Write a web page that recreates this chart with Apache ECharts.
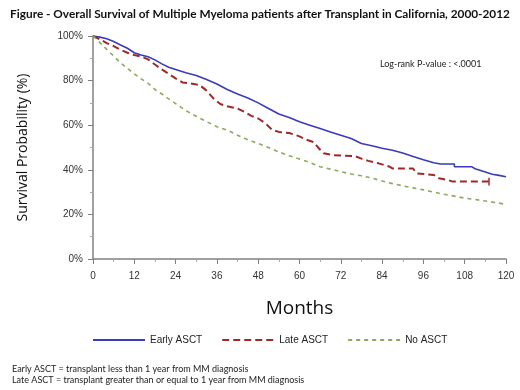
<!DOCTYPE html>
<html>
<head>
<meta charset="utf-8">
<script src="https://cdn.jsdelivr.net/npm/echarts@6/dist/echarts.min.js"></script>
<style>
  html, body { margin: 0; padding: 0; background: #fff; }
  #chart { width: 520px; height: 390px; }
</style>
</head>
<body>
<div id="chart"></div>
<script>
// Early ASCT
var earlyMonths = [0, 2, 4, 6, 8, 10, 12, 14, 16, 18, 20, 22, 24, 27, 30, 33, 36, 39, 42, 45, 48, 51, 54, 57, 60, 63, 66, 69, 72, 75, 78, 81, 84, 87, 90, 93, 96, 99, 101, 105, 105, 110, 111, 114, 116, 118, 120];
var earlySurv   = [100, 99.5, 98.8, 97.5, 96, 94.5, 92.5, 91.5, 90.7, 89.3, 87.5, 86, 85, 83.5, 82.3, 80.5, 78.5, 76, 74, 72.2, 70, 67.5, 65, 63.5, 61.5, 60, 58.5, 57, 55.5, 54, 51.8, 50.8, 49.7, 48.8, 47.5, 46, 44.5, 43.2, 42.6, 42.6, 41.4, 41.4, 40.5, 39, 38, 37.5, 36.9];

// Late ASCT
var lateMonths = [0, 2, 4, 6, 8, 10, 12, 14, 16, 18, 20, 22, 24, 26, 28, 31, 33, 35, 37, 39, 42, 44, 46, 48, 50, 52, 54, 57, 60, 62, 64, 66, 67, 70, 76, 78, 80, 83, 86, 87, 93, 94, 99, 100.5, 103, 104.5, 115];
var lateSurv   = [100, 98.5, 96.8, 95.5, 93.8, 92.5, 91.5, 90.8, 89.5, 87.2, 85, 83, 81, 79.2, 78.8, 78, 75.5, 72, 69.5, 68.5, 67.5, 66, 64.2, 63, 61, 58, 57, 56.5, 55, 53.5, 52.5, 49, 47.4, 46.5, 46.2, 45, 44, 42.9, 41.5, 40.6, 40.6, 38.4, 37.7, 36.2, 35.5, 34.7, 34.7];

// No ASCT
var noMonths = [0, 2, 4, 6, 8, 10, 12, 14, 16, 18, 20, 22, 24, 27, 30, 33, 36, 39, 42, 45, 48, 51, 54, 57, 60, 63, 66, 69, 72, 75, 78, 81, 84, 87, 90, 93, 96, 99, 102, 105, 108, 111, 114, 117, 120];
var noSurv   = [100, 97, 94, 91, 88, 85.5, 83, 80.8, 78.8, 76, 74, 71.8, 69.7, 66.5, 64, 61.6, 59.3, 57.8, 55.5, 53.5, 51.8, 50, 48, 46.3, 44.8, 43.3, 41.4, 40.3, 39.2, 38.1, 37.3, 36.3, 35, 33.8, 32.8, 31.9, 31, 30, 29, 28.2, 27.3, 26.7, 26, 25.3, 24.5];

function pairs(xs, ys) {
  return xs.map(function(x, i) { return [x, ys[i]]; });
}

var chart = echarts.init(document.getElementById('chart'));

var axisGray = '#808080';
var labelFont = 'Liberation Sans';

var option = {
  animation: false,
  backgroundColor: '#fff',
  title: {
    text: 'Figure - Overall Survival of Multiple Myeloma patients after Transplant in California, 2000-2012',
    left: 'center',
    top: 3,
    textStyle: { fontFamily: 'Lato', fontWeight: 'bold', fontSize: 11.8, color: '#111' }
  },
  grid: { left: 93, right: 14, top: 36, bottom: 131 },
  legend: {
    left: 87,
    top: 330,
    itemWidth: 52,
    itemHeight: 10,
    itemGap: 19,
    itemStyle: { opacity: 0 },
    textStyle: { fontFamily: labelFont, fontSize: 10, color: '#222' },
    data: ['Early ASCT', 'Late ASCT', 'No ASCT']
  },
  xAxis: {
    type: 'value',
    min: 0,
    max: 120,
    interval: 12,
    offset: 5,
    name: 'Months',
    nameLocation: 'middle',
    nameGap: 35,
    nameTextStyle: { fontFamily: 'Open Sans', fontSize: 19, color: '#111' },
    axisLine: { show: true, lineStyle: { color: axisGray, width: 1.5 } },
    axisTick: { show: true, length: 5, lineStyle: { color: axisGray } },
    minorTick: { show: true, splitNumber: 2, length: 3, lineStyle: { color: '#aaa' } },
    axisLabel: { fontFamily: labelFont, fontSize: 10, color: '#333', margin: 7 },
    splitLine: { show: false }
  },
  yAxis: {
    type: 'value',
    min: 0,
    max: 100,
    interval: 20,
    offset: 3,
    name: 'Survival Probability (%)',
    nameLocation: 'middle',
    nameGap: 60,
    nameTextStyle: { fontFamily: 'Open Sans', fontSize: 14, color: '#111' },
    axisLine: { show: true, lineStyle: { color: axisGray, width: 1.5 } },
    axisTick: { show: true, length: 5, lineStyle: { color: axisGray } },
    minorTick: { show: true, splitNumber: 2, length: 3, lineStyle: { color: '#aaa' } },
    axisLabel: { fontFamily: labelFont, fontSize: 10, color: '#333', margin: 7, formatter: '{value}%' },
    splitLine: { show: false }
  },
  series: [
    {
      name: 'Early ASCT',
      type: 'line',
      symbol: 'none',
      data: pairs(earlyMonths, earlySurv),
      lineStyle: { color: '#3a3abc', width: 1.6 },
      itemStyle: { color: '#3a3abc' }
    },
    {
      name: 'Late ASCT',
      type: 'line',
      symbol: 'none',
      data: pairs(lateMonths, lateSurv),
      lineStyle: { color: '#a02828', width: 2, type: [7, 4] },
      itemStyle: { color: '#a02828' },
      // censor tick at the end of the curve
      markLine: {
        silent: true,
        symbol: 'none',
        label: { show: false },
        lineStyle: { color: '#a02828', width: 1.5, type: 'solid' },
        data: [[{ coord: [115, 33] }, { coord: [115, 36.4] }]]
      }
    },
    {
      name: 'No ASCT',
      type: 'line',
      symbol: 'none',
      data: pairs(noMonths, noSurv),
      lineStyle: { color: '#8caa5c', width: 1.6, type: [4, 4] },
      itemStyle: { color: '#8caa5c' }
    }
  ],
  graphic: [
    {
      type: 'text', left: 380, top: 60,
      style: { text: 'Log-rank P-value : <.0001', font: '9px Lato', fill: '#222' }
    },
    {
      type: 'text', left: 12, top: 365,
      style: { text: 'Early ASCT = transplant less than 1 year from MM diagnosis', font: '9px Lato', fill: '#222' }
    },
    {
      type: 'text', left: 12, top: 376,
      style: { text: 'Late ASCT = transplant greater than or equal to 1 year from MM diagnosis', font: '9px Lato', fill: '#222' }
    }
  ]
};

chart.setOption(option);
</script>
</body>
</html>
